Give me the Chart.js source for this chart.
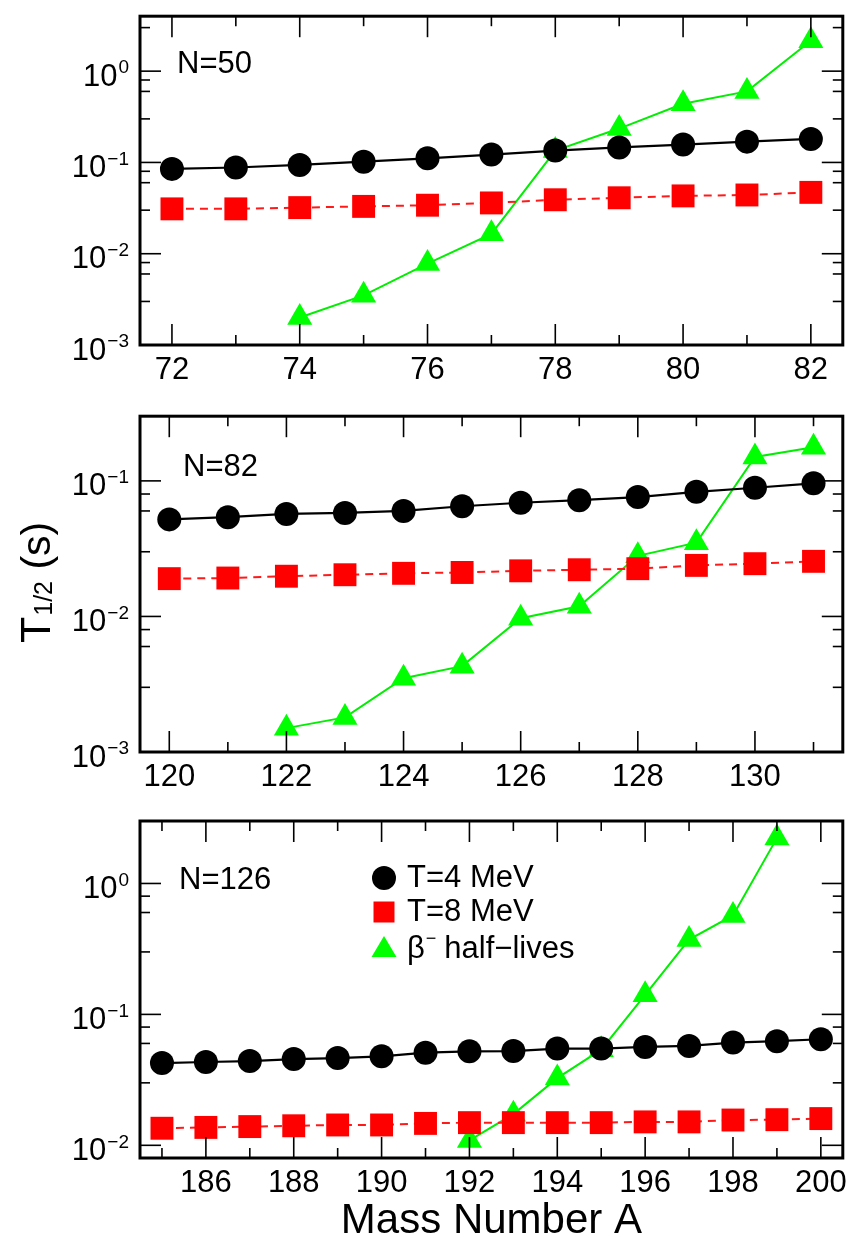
<!DOCTYPE html>
<html>
<head>
<meta charset="utf-8">
<title>T1/2 vs Mass Number</title>
<script src="https://cdn.jsdelivr.net/npm/chart.js@4.4.1/dist/chart.umd.min.js"></script>
<style>
  body { margin: 0; background: #fff; }
  #fig { position: relative; width: 859px; height: 1238px; }
  canvas { position: absolute; left: 0; }
</style>
</head>
<body>
<div id="fig">
  <canvas id="p50" width="859" height="400" style="top:0px"></canvas>
  <canvas id="p82" width="859" height="400" style="top:400px"></canvas>
  <canvas id="p126" width="859" height="438" style="top:800px"></canvas>
</div>
<script>
// Data (half-lives in seconds)
// N=50
const massN50 = [72, 73, 74, 75, 76, 77, 78, 79, 80, 81, 82];
const t4N50 = [0.085, 0.088, 0.094, 0.102, 0.111, 0.122, 0.135, 0.146, 0.157, 0.169, 0.181];
const t8N50 = [0.031, 0.031, 0.032, 0.033, 0.034, 0.036, 0.039, 0.041, 0.043, 0.044, 0.047];
const betaN50 = [null, null, 0.002, 0.0035, 0.0078, 0.0165, 0.135, 0.235, 0.44, 0.6, 2.15];
const xTicksN50 = [72, 74, 76, 78, 80, 82];
const yExpN50 = [-3, -2, -1, 0];

// N=82
const massN82 = [120, 121, 122, 123, 124, 125, 126, 127, 128, 129, 130, 131];
const t4N82 = [0.052, 0.054, 0.057, 0.058, 0.060, 0.065, 0.069, 0.072, 0.076, 0.083, 0.089, 0.096];
const t8N82 = [0.019, 0.0192, 0.0198, 0.0203, 0.0208, 0.0211, 0.0217, 0.0221, 0.0225, 0.0238, 0.0245, 0.0255];
const betaN82 = [null, null, 0.0015, 0.0018, 0.0035, 0.0043, 0.0097, 0.0119, 0.028, 0.035, 0.15, 0.177];
const xTicksN82 = [120, 122, 124, 126, 128, 130];
const yExpN82 = [-3, -2, -1];

// N=126
const massN126 = [185, 186, 187, 188, 189, 190, 191, 192, 193, 194, 195, 196, 197, 198, 199, 200];
const t4N126 = [0.0425, 0.0433, 0.044, 0.0456, 0.0464, 0.0478, 0.051, 0.0522, 0.0525, 0.0548, 0.0548, 0.0564, 0.0574, 0.0609, 0.0624, 0.0646];
const t8N126 = [0.0135, 0.0137, 0.0139, 0.0141, 0.0143, 0.0143, 0.0147, 0.0149, 0.0149, 0.0149, 0.0149, 0.0151, 0.0151, 0.0156, 0.0157, 0.016];
const betaN126 = [null, null, null, null, null, null, null, 0.0109, 0.0173, 0.0326, 0.0538, 0.141, 0.373, 0.57, 2.22, null];
const xTicksN126 = [186, 188, 190, 192, 194, 196, 198, 200];
const yExpN126 = [-2, -1, 0];

const seriesLabels = ["T=4 MeV", "T=8 MeV", "\u03b2\u207b half\u2212lives"];

const FONT = '"Liberation Sans", Arial, Helvetica, sans-serif';

// Turn two arrays into {x, y} points
const toPoints = (xs, ys) => xs.map((a, i) => ({ x: a, y: ys[i] }));

// Draws 10 with a raised exponent, right aligned
const drawPow = (ctx, e, xRight, yPix) => {
    const expTxt = e < 0 ? "\u2212" + -e : String(e);
    ctx.font = "19px " + FONT;
    const we = ctx.measureText(expTxt).width;
    ctx.textAlign = "left";
    ctx.textBaseline = "middle";
    ctx.fillText(expTxt, xRight - we, yPix - 3);
    ctx.font = "31px " + FONT;
    ctx.textAlign = "right";
    ctx.fillText("10", xRight - we - 1, yPix + 6);
};

// Marker shapes for the legend
const drawMarker = (ctx, style, x, y) => {
    ctx.beginPath();
    if (style === "circle") {
        ctx.fillStyle = "#000";
        ctx.arc(x, y, 12, 0, Math.PI * 2);
    } else if (style === "rect") {
        ctx.fillStyle = "#ff0000";
        ctx.rect(x - 10.5, y - 10.5, 21, 21);
    } else {
        ctx.fillStyle = "#00ff00";
        ctx.moveTo(x, y - 13);
        ctx.lineTo(x + 12.5, y + 8);
        ctx.lineTo(x - 12.5, y + 8);
        ctx.closePath();
    }
    ctx.fill();
};

// Frame, inward ticks, tick labels and texts (xmgrace look)
const graceAxes = {
    id: "graceAxes",
    afterDraw(chart, args, opts) {
        const { ctx, chartArea: a } = chart;
        const xs = chart.scales.x;
        const ys = chart.scales.y;
        ctx.save();
        ctx.strokeStyle = "#000";
        ctx.fillStyle = "#000";
        ctx.lineWidth = 1.6;

        const seg = (x1, y1, x2, y2) => {
            ctx.beginPath();
            ctx.moveTo(x1, y1);
            ctx.lineTo(x2, y2);
            ctx.stroke();
        };

        xs.ticks.forEach((t) => {
            const px = xs.getPixelForValue(t.value);
            const len = t.major ? 21 : 10;
            seg(px, a.bottom, px, a.bottom - len);
            seg(px, a.top, px, a.top + len);
        });
        ys.ticks.forEach((t) => {
            const py = ys.getPixelForValue(t.value);
            if (py < a.top + 2 || py > a.bottom - 2) return;
            const len = t.major ? 21 : 10;
            seg(a.left, py, a.left + len, py);
            seg(a.right, py, a.right - len, py);
        });

        ctx.lineWidth = 3;
        ctx.strokeRect(a.left, a.top, a.right - a.left, a.bottom - a.top);

        // x tick labels
        ctx.font = "31px " + FONT;
        ctx.textAlign = "center";
        ctx.textBaseline = "middle";
        opts.xTicks.forEach((v) => {
            ctx.fillText(String(v), xs.getPixelForValue(v), a.bottom + 25);
        });

        // y tick labels
        opts.yExp.forEach((e) => {
            drawPow(ctx, e, a.left - 11, ys.getPixelForValue(Math.pow(10, e)));
        });

        // panel label
        ctx.font = "31px " + FONT;
        ctx.textAlign = "left";
        ctx.textBaseline = "middle";
        ctx.fillText(opts.title, a.left + opts.titleDx, a.top + opts.titleDy);

        if (opts.legend) {
            const styles = ["circle", "rect", "triangle"];
            const rows = [78, 112, 149];
            chart.data.datasets.forEach((ds, i) => {
                drawMarker(ctx, styles[i], 384, rows[i]);
                ctx.fillStyle = "#000";
                ctx.font = "31px " + FONT;
                ctx.textAlign = "left";
                ctx.textBaseline = "middle";
                if (i < 2) {
                    ctx.fillText(ds.label, 407, rows[i]);
                } else {
                    ctx.fillText("\u03b2", 407, rows[i]);
                    let xx = 407 + ctx.measureText("\u03b2").width + 1;
                    ctx.font = "18px " + FONT;
                    ctx.fillText("\u2212", xx, rows[i] - 10);
                    xx += ctx.measureText("\u2212").width + 8;
                    ctx.font = "31px " + FONT;
                    ctx.fillText("half\u2212lives", xx, rows[i]);
                }
            });
        }

        if (opts.yTitle) {
            ctx.save();
            ctx.translate(50, 243);
            ctx.rotate(-Math.PI / 2);
            ctx.textAlign = "left";
            ctx.textBaseline = "alphabetic";
            ctx.font = "43px " + FONT;
            ctx.fillText("T", 0, 0);
            let xx = ctx.measureText("T").width + 1;
            ctx.font = "25px " + FONT;
            ctx.fillText("1/2", xx, 2);
            xx += ctx.measureText("1/2").width;
            ctx.font = "41px " + FONT;
            ctx.fillText(" (s)", xx, 0);
            ctx.restore();
        }

        if (opts.xTitle) {
            ctx.font = "42px " + FONT;
            ctx.textAlign = "center";
            ctx.textBaseline = "alphabetic";
            ctx.fillText("Mass Number A", (a.left + a.right) / 2, 433);
        }
        ctx.restore();
    },
};

// Builds one panel of the figure
const makePanel = (id, p) => {
    const ctx = document.getElementById(id).getContext("2d");
    return new Chart(ctx, {
        type: "line",
        data: {
            datasets: [
                {
                    label: seriesLabels[0],
                    data: toPoints(p.mass, p.t4),
                    borderColor: "#000",
                    backgroundColor: "#000",
                    borderWidth: 2.2,
                    pointStyle: "circle",
                    pointRadius: 12,
                    pointBorderWidth: 0,
                },
                {
                    label: seriesLabels[1],
                    data: toPoints(p.mass, p.t8),
                    borderColor: "#ff1a1a",
                    backgroundColor: "#ff0000",
                    borderWidth: 2,
                    borderDash: [8, 6],
                    pointStyle: "rect",
                    pointRadius: 16.2,
                    pointBorderWidth: 0,
                },
                {
                    label: seriesLabels[2],
                    data: toPoints(p.mass, p.beta),
                    borderColor: "#00ee00",
                    backgroundColor: "#00ff00",
                    borderWidth: 2,
                    pointStyle: "triangle",
                    pointRadius: 14.5,
                    pointBorderWidth: 0,
                },
            ],
        },
        options: {
            responsive: false,
            animation: false,
            events: [],
            clip: false,
            layout: { padding: p.pad },
            elements: { line: { tension: 0 } },
            scales: {
                x: {
                    type: "linear",
                    display: false,
                    bounds: "data",
                    min: p.xMin,
                    max: p.xMax,
                    afterBuildTicks: (scale) => {
                        const t = [];
                        for (let v = Math.ceil(scale.min); v <= scale.max; v++) {
                            t.push({ value: v, major: p.xTicks.includes(v) });
                        }
                        scale.ticks = t;
                    },
                },
                y: {
                    type: "logarithmic",
                    display: false,
                    bounds: "data",
                    min: p.yMin,
                    max: p.yMax,
                    afterBuildTicks: (scale) => {
                        const t = [];
                        const e0 = Math.floor(Math.log10(p.yMin));
                        const e1 = Math.floor(Math.log10(p.yMax));
                        for (let e = e0; e <= e1; e++) {
                            for (let k = 1; k <= 9; k++) {
                                const v = k * Math.pow(10, e);
                                if (v >= p.yMin * 0.999 && v <= p.yMax * 1.001) {
                                    t.push({ value: v, major: k === 1 });
                                }
                            }
                        }
                        scale.ticks = t;
                    },
                },
            },
            plugins: {
                legend: { display: false },
                tooltip: { enabled: false },
                graceAxes: {
                    xTicks: p.xTicks,
                    yExp: p.yExp,
                    title: p.title,
                    titleDx: p.titleDx,
                    titleDy: p.titleDy,
                    legend: !!p.legend,
                    yTitle: !!p.yTitle,
                    xTitle: !!p.xTitle,
                },
            },
        },
        plugins: [graceAxes],
    });
};

makePanel("p50", {
    mass: massN50, t4: t4N50, t8: t8N50, beta: betaN50,
    xTicks: xTicksN50, yExp: yExpN50,
    xMin: 71.5, xMax: 82.5, yMin: 1e-3, yMax: 4,
    pad: { left: 140, right: 15, top: 7, bottom: 55 },
    title: "N=50", titleDx: 37, titleDy: 48,
});

makePanel("p82", {
    mass: massN82, t4: t4N82, t8: t8N82, beta: betaN82,
    xTicks: xTicksN82, yExp: yExpN82,
    xMin: 119.5, xMax: 131.5, yMin: 1e-3, yMax: 0.3,
    pad: { left: 140, right: 15, top: 15, bottom: 48 },
    title: "N=82", titleDx: 43, titleDy: 51,
    yTitle: true,
});

makePanel("p126", {
    mass: massN126, t4: t4N126, t8: t8N126, beta: betaN126,
    xTicks: xTicksN126, yExp: yExpN126,
    xMin: 184.5, xMax: 200.5, yMin: 0.008, yMax: 3,
    pad: { left: 140, right: 15, top: 21, bottom: 80 },
    title: "N=126", titleDx: 39, titleDy: 59,
    legend: true, xTitle: true,
});
</script>
</body>
</html>
